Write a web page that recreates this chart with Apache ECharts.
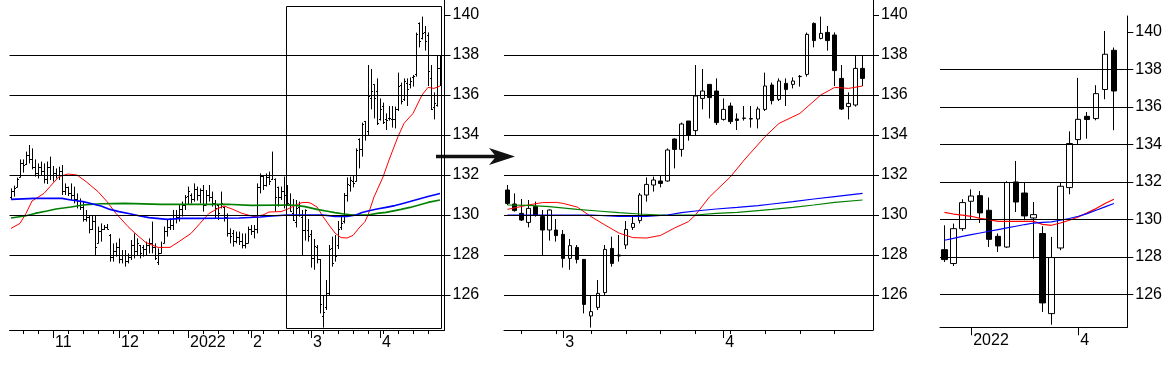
<!DOCTYPE html>
<html><head><meta charset="utf-8">
<script src="https://cdn.jsdelivr.net/npm/echarts@6/dist/echarts.min.js"></script>
<style>html,body{margin:0;padding:0;background:#fff}#c{width:1168px;height:366px}</style>
</head><body><div id="c"></div>
<script>
// ---------------- DATA ----------------
// daily bars: trading days 2021-10-12 .. 2022-04-29
const dailyOpen = [130.90,131.20,131.40,131.90,132.60,132.55,133.00,132.80,132.40,132.10,132.40,132.20,131.80,132.40,132.00,132.10,132.00,132.20,131.20,131.40,131.10,131.00,130.80,130.50,130.40,129.80,129.90,129.30,129.70,128.60,129.20,129.30,129.40,129.00,127.90,128.20,128.40,127.80,128.00,127.70,127.90,128.50,128.20,128.50,128.38,128.30,128.50,128.60,128.40,127.64,128.10,128.60,129.20,129.40,129.50,130.00,129.90,130.30,130.50,130.96,131.00,130.80,131.30,131.00,131.26,130.50,131.00,130.90,130.60,130.48,130.40,130.40,129.90,129.10,129.09,128.70,128.90,128.70,128.50,128.60,129.30,129.20,129.30,131.40,131.95,131.50,131.90,131.80,131.80,131.40,130.90,131.20,131.25,130.55,130.08,129.63,130.42,129.92,129.25,129.25,129.03,127.83,128.38,127.78,124.95,125.38,126.12,128.33,128.00,128.50,129.38,129.72,131.00,131.50,131.70,131.70,133.80,133.28,134.70,134.22,135.83,136.53,136.20,134.78,135.45,134.80,134.83,134.80,134.80,135.28,136.50,135.78,136.58,136.53,136.92,137.03,139.58,138.83,139.13,139.00,136.83,135.42,135.50,137.33];
const dailyHigh = [131.33,131.47,131.87,132.78,132.78,133.17,133.50,133.33,132.78,132.58,132.67,132.58,132.67,132.92,132.45,132.33,132.42,132.50,131.58,131.42,131.58,131.42,131.08,130.83,130.67,130.25,130.00,129.95,129.95,129.42,129.58,129.50,129.55,129.05,128.58,128.62,128.83,128.25,128.25,128.08,128.75,129.08,128.83,128.50,128.50,128.67,128.83,129.67,128.58,128.33,128.67,129.42,129.75,129.83,130.25,130.25,130.50,130.67,131.00,131.42,131.08,131.58,131.42,131.33,131.50,131.25,131.50,131.17,130.75,130.50,131.17,130.42,130.08,129.33,129.25,129.17,129.17,129.08,129.08,129.42,129.50,129.50,131.58,132.08,132.00,132.08,132.17,133.17,131.83,131.42,131.42,131.92,131.50,131.08,130.80,130.75,130.67,130.25,130.28,129.80,129.25,128.80,128.50,127.80,125.96,126.75,128.50,128.92,129.00,129.70,129.95,131.10,131.88,131.92,131.95,133.33,133.83,134.62,134.70,137.50,137.30,136.53,136.83,135.83,135.62,135.08,135.45,135.45,135.42,137.12,136.62,136.83,136.83,136.88,137.00,139.12,139.63,139.92,139.45,139.13,137.50,136.13,137.95,137.95];
const dailyLow = [130.78,130.92,131.38,131.88,132.12,132.50,132.58,132.28,131.92,131.83,132.00,131.58,131.55,131.75,131.67,131.83,131.75,131.00,131.00,130.95,130.75,130.58,130.33,130.25,129.67,129.67,129.08,129.25,128.00,128.58,128.67,129.25,129.28,127.67,127.67,127.92,127.58,127.58,127.42,127.58,127.75,127.83,128.00,127.83,127.92,128.00,128.08,128.08,127.75,127.50,128.08,128.58,128.92,129.25,129.25,129.58,129.67,129.92,130.25,130.50,130.58,130.67,130.72,130.58,130.17,130.50,130.67,130.42,129.83,129.75,130.33,129.67,128.92,128.58,128.42,128.58,128.50,128.33,128.33,128.58,129.00,128.83,129.08,131.08,131.25,131.42,131.50,131.75,130.17,130.42,130.75,130.33,130.50,130.17,129.70,129.38,129.92,128.00,128.72,128.67,127.37,127.26,127.58,125.08,124.37,125.25,126.00,127.42,127.67,128.30,129.25,129.58,130.67,131.17,131.38,131.67,132.33,132.92,133.72,134.00,135.28,134.83,134.50,134.72,134.55,134.25,134.72,134.37,134.33,135.20,135.53,135.70,135.45,136.33,136.42,136.92,138.38,138.78,138.22,136.45,135.25,134.78,135.42,136.45];
const dailyClose = [131.20,131.35,131.80,132.60,132.50,133.00,132.80,132.40,132.10,132.40,132.20,131.80,132.40,132.00,132.10,132.00,132.20,131.20,131.40,131.10,131.00,130.80,130.50,130.40,129.80,129.90,129.30,129.70,128.40,129.20,129.30,129.40,129.30,127.90,128.20,128.40,127.80,128.00,127.70,127.90,128.50,128.20,128.60,128.10,128.30,128.50,128.60,128.40,127.85,128.10,128.40,129.20,129.40,129.50,130.00,129.90,130.30,130.50,130.89,131.20,130.80,131.30,131.00,131.24,130.50,131.00,130.90,130.60,130.34,130.10,130.60,129.90,129.10,128.93,128.70,128.90,128.70,128.50,128.58,129.30,129.20,129.30,131.40,131.96,131.50,131.90,131.70,132.00,130.92,130.90,131.20,131.00,130.58,130.22,129.75,130.33,130.00,129.25,130.25,128.97,127.83,128.47,127.78,125.53,125.17,126.08,128.28,127.58,127.95,129.28,129.58,131.00,131.53,131.75,131.58,133.25,133.28,134.55,134.00,135.95,136.20,135.87,134.62,135.28,134.67,134.73,134.85,134.82,135.30,136.45,135.72,136.70,136.28,136.70,136.93,139.03,138.72,139.08,138.72,137.22,135.30,135.58,137.33,136.83];
// moving averages: [day index, value]
const maRed = [[0,129.33],[3,129.58],[5,130.08],[7,130.7],[11,131.08],[13,131.42],[16,131.92],[19,132.05],[22,132.0],[25,131.67],[29,131.17],[32,130.67],[35,130.08],[39,129.42],[42,129.0],[45,128.62],[49,128.38],[53,128.38],[56,128.67],[60,129.08],[63,129.58],[66,130.08],[69,130.33],[71,130.45],[74,130.28],[77,130.08],[81,129.92],[84,130.0],[86,130.15],[90,130.17],[92,130.28],[95,130.5],[97,130.62],[99,130.63],[100,130.58],[102,130.4],[104,129.92],[106,129.5],[108,129.1],[110,128.87],[112,128.85],[114,128.98],[116,129.35],[118,129.67],[119,130.0],[121,130.9],[124,131.9],[126,132.75],[129,133.92],[131,134.58],[134,135.08],[137,136.0],[139,136.38],[141,136.33],[143,136.45]];
const maBlue = [[0,130.78],[8,130.83],[17,130.83],[20,130.75],[24,130.67],[30,130.45],[33,130.28],[36,130.17],[40,130.05],[43,129.95],[46,129.87],[52,129.78],[57,129.83],[63,129.83],[76,129.85],[83,129.9],[87,129.95],[92,130.0],[104,130.0],[108,129.93],[112,129.93],[115,130.0],[117,130.12],[119,130.2],[122,130.3],[125,130.38],[128,130.47],[130,130.55],[133,130.67],[136,130.8],[139,130.92],[143,131.08]];
const maGreen = [[0,129.85],[5,129.96],[8,130.08],[12,130.2],[15,130.3],[20,130.4],[24,130.5],[30,130.56],[38,130.58],[50,130.53],[62,130.53],[72,130.54],[80,130.48],[92,130.5],[95,130.48],[98,130.42],[102,130.28],[105,130.2],[108,130.12],[111,130.05],[114,130.0],[119,130.0],[122,130.08],[125,130.13],[128,130.22],[130,130.28],[133,130.38],[136,130.5],[139,130.63],[143,130.75]];
// weekly candles: weeks starting 2021-12-13 .. 2022-04-25
const weeklyOpen  = [128.38,127.64,129.50,130.96,131.26,130.48,129.09,128.52,131.99,131.40,130.07,129.24,124.97,128.47,131.69,134.25,135.49,135.37,136.92,139.01];
const weeklyClose = [127.85,129.50,130.89,131.24,130.34,128.93,128.58,131.96,130.92,130.18,130.25,125.54,127.96,131.76,134.04,135.33,135.32,136.70,138.80,136.84];
const weeklyLow   = [127.72,127.51,129.38,130.00,129.80,128.52,128.26,128.47,130.39,129.95,127.90,125.06,124.38,128.35,131.33,134.00,134.30,135.28,136.40,134.75];
const weeklyHigh  = [129.68,129.77,131.07,131.60,131.51,131.16,129.24,132.03,133.11,131.99,130.92,129.63,129.06,131.94,134.69,137.54,135.72,137.15,140.04,139.16];
const weeklyRed  = [130.37,130.28,130.22,130.16,130.05,129.98,129.89,129.89,129.89,129.89,129.89,129.73,129.68,129.80,129.95,130.12,130.34,130.57,130.84,131.07];
const weeklyBlue = [128.88,128.98,129.09,129.18,129.27,129.36,129.45,129.54,129.63,129.72,129.80,129.83,129.86,129.95,130.04,130.16,130.30,130.48,130.66,130.84];
// axis labels
const yTicks = [126,128,130,132,134,136,138,140];
const gridLevels = [126,128,130,132,134,136,138];
const monthKeys   = ['2021-11','2021-12','2022-01','2022-02','2022-03','2022-04'];
const monthLabels = ['11','12','2022','2','3','4'];
const weeklyTickDates  = ['2022-01-03','2022-03-28'];
const weeklyTickLabels = ['2022','4'];
const zoomStart = '2022-02-17';
const zoomBox = {low:124.35, high:140.45};

// ---------------- CATEGORIES ----------------
function tradingDays(start, end) {
  const out = []; const d = new Date(start + 'T00:00:00Z'); const e = new Date(end + 'T00:00:00Z');
  while (d <= e) { const w = d.getUTCDay(); if (w > 0 && w < 6) out.push(d.toISOString().slice(0, 10)); d.setUTCDate(d.getUTCDate() + 1); }
  return out;
}
function weekStarts(start, n) {
  const out = []; const d = new Date(start + 'T00:00:00Z');
  for (let k = 0; k < n; k++) { out.push(d.toISOString().slice(0, 10)); d.setUTCDate(d.getUTCDate() + 7); }
  return out;
}
const dailyDates = tradingDays('2021-10-12', '2022-04-29');
const weeklyDates = weekStarts('2021-12-13', weeklyOpen.length);
const zoomIdx = dailyDates.indexOf(zoomStart);

const cat1 = dailyDates.concat(['']);
const cat2 = dailyDates.slice(zoomIdx).concat(['']);
const cat3 = weeklyDates.concat(['']);

const isMonday = v => v !== '' && new Date(v + 'T00:00:00Z').getUTCDay() === 1;
function monthStartFn(cats) {
  return (idx, v) => v !== '' && idx > 0 && cats[idx - 1].slice(0, 7) !== v.slice(0, 7) && monthKeys.indexOf(v.slice(0, 7)) >= 0;
}
const monthLabel = v => { const k = monthKeys.indexOf(v.slice(0, 7)); return k >= 0 ? monthLabels[k] : ''; };

// ---------------- OPTION ----------------
const FONT = 'Liberation Sans, Arial, sans-serif';
const grids = [
  {left: 9.5, top: 0, width: 3 * cat1.length, height: 330},
  {left: 504, top: 0, width: 369, height: 330},
  {left: 940, top: 16, width: 187.3, height: 311.3}
].map(g => Object.assign(g, {containLabel: false, outerBoundsMode: 'none'}));

function minorAxis(gi, cats, intervalFn) {
  return {gridIndex: gi, type: 'category', data: cats, position: 'bottom', boundaryGap: true,
    axisLine: {show: true, onZero: false, lineStyle: {color: '#000', width: 1}},
    axisTick: {show: true, alignWithLabel: true, length: 4, interval: intervalFn, lineStyle: {color: '#000'}},
    axisLabel: {show: false, interval: intervalFn}, splitLine: {show: false}};
}
function majorAxis(gi, cats, intervalFn, fmt) {
  return {gridIndex: gi, type: 'category', data: cats, position: 'bottom', boundaryGap: true,
    axisLine: {show: false, onZero: false},
    axisTick: {show: true, alignWithLabel: true, length: 8, interval: intervalFn, lineStyle: {color: '#000'}},
    axisLabel: {show: true, interval: intervalFn, formatter: fmt, align: 'left', margin: 5, padding: [0, 0, 0, 2],
      color: '#000', fontFamily: FONT, fontSize: 16},
    splitLine: {show: false}};
}
function yAxis(gi, min, max) {
  return {gridIndex: gi, type: 'value', position: 'right', min: min, max: max, scale: true,
    axisLine: {show: true, onZero: false, lineStyle: {color: '#000', width: 1}},
    axisTick: {show: true, length: 6, customValues: yTicks, lineStyle: {color: '#000'}},
    axisLabel: {show: true, customValues: yTicks, margin: 8, color: '#000', fontFamily: FONT, fontSize: 16},
    splitLine: {show: false}};
}
const m1 = monthStartFn(cat1), m2 = monthStartFn(cat2);
const weeklyTickFn = (idx, v) => weeklyTickDates.indexOf(v) >= 0;
const weeklyFmt = v => { const k = weeklyTickDates.indexOf(v); return k >= 0 ? weeklyTickLabels[k] : ''; };

const xAxes = [
  minorAxis(0, cat1, (i, v) => isMonday(v)), majorAxis(0, cat1, m1, monthLabel),
  minorAxis(1, cat2, (i, v) => isMonday(v)), majorAxis(1, cat2, m2, monthLabel),
  minorAxis(2, cat3, () => false), majorAxis(2, cat3, weeklyTickFn, weeklyFmt)
];
const yAxes = [yAxis(0, 124.25, 140.75), yAxis(1, 124.25, 140.75), yAxis(2, 124.24, 140.84)];

function gridLineSeries(xi, yi) {
  return {type: 'line', xAxisIndex: xi, yAxisIndex: yi, data: [], z: 0, silent: true,
    markLine: {silent: true, symbol: ['none', 'none'], label: {show: false}, animation: false,
      lineStyle: {color: '#000', width: 1, type: 'solid'},
      emphasis: {disabled: true},
      data: gridLevels.map(v => ({yAxis: v}))}};
}
function maSeries(xi, yi, data, color, width) {
  return {type: 'line', xAxisIndex: xi, yAxisIndex: yi, data: data, showSymbol: false, symbol: 'none',
    connectNulls: true, z: 4, silent: true, lineStyle: {color: color, width: width}};
}
const shift = arr => arr.filter(p => p[0] >= zoomIdx).map(p => [p[0] - zoomIdx, p[1]]);

const ohlc = dailyDates.map((d, i) => [i, dailyOpen[i], dailyHigh[i], dailyLow[i], dailyClose[i]]);
function renderOHLC(params, api) {
  const i = api.value(0);
  const xc = Math.round(api.coord([i, api.value(2)])[0]) + 0.5;
  const yh = api.coord([i, api.value(2)])[1];
  const yl = api.coord([i, api.value(3)])[1];
  const yo = Math.round(api.coord([i, api.value(1)])[1]) + 0.5;
  const yc = Math.round(api.coord([i, api.value(4)])[1]) + 0.5;
  const st = {stroke: '#000', lineWidth: 1};
  return {type: 'group', children: [
    {type: 'line', shape: {x1: xc, y1: yh, x2: xc, y2: yl}, style: st},
    {type: 'line', shape: {x1: xc - 1.5, y1: yo, x2: xc, y2: yo}, style: st},
    {type: 'line', shape: {x1: xc, y1: yc, x2: xc + 1.5, y2: yc}, style: st}
  ]};
}
function renderBox(params, api) {
  const p1 = api.coord([api.value(0), api.value(3)]);
  const p2 = api.coord([api.value(1), api.value(2)]);
  const w = api.size([1, 0])[0];
  const x1 = Math.round(p1[0] - w / 2) + 0.5, x2 = Math.round(p2[0] + w / 2) - 0.5;
  const y1 = Math.round(p1[1]) + 0.5, y2 = Math.round(p2[1]) + 0.5;
  return {type: 'rect', shape: {x: x1, y: y1, width: x2 - x1, height: y2 - y1},
    style: {fill: 'none', stroke: '#000', lineWidth: 1}};
}
const candleStyle = {color: '#fff', color0: '#000', borderColor: '#000', borderColor0: '#000', borderColorDoji: '#000', borderWidth: 1};
const daily2 = dailyDates.slice(zoomIdx).map((d, k) => { const i = k + zoomIdx; return [dailyOpen[i], dailyClose[i], dailyLow[i], dailyHigh[i]]; });
const weekly = weeklyOpen.map((o, k) => [o, weeklyClose[k], weeklyLow[k], weeklyHigh[k]]);

const series = [
  gridLineSeries(0, 0), gridLineSeries(2, 1), gridLineSeries(4, 2),
  {type: 'custom', xAxisIndex: 0, yAxisIndex: 0, data: ohlc, renderItem: renderOHLC, z: 2, silent: true,
    encode: {x: 0, y: [1, 2, 3, 4]}},
  {type: 'custom', xAxisIndex: 0, yAxisIndex: 0, renderItem: renderBox, z: 5, silent: true,
    data: [[zoomIdx, dailyDates.length - 1, zoomBox.low, zoomBox.high]], encode: {x: [0, 1], y: [2, 3]}},
  maSeries(0, 0, maRed, '#ff0000', 1), maSeries(0, 0, maGreen, '#008000', 1.6), maSeries(0, 0, maBlue, '#0000ff', 1.6),
  {type: 'candlestick', xAxisIndex: 2, yAxisIndex: 1, data: daily2, barWidth: 4, z: 2, silent: true, itemStyle: candleStyle},
  maSeries(2, 1, shift(maRed), '#ff0000', 1), maSeries(2, 1, shift(maGreen), '#008000', 1.2), maSeries(2, 1, shift(maBlue), '#0000ff', 1.2),
  {type: 'candlestick', xAxisIndex: 4, yAxisIndex: 2, data: weekly, barWidth: 6, z: 2, silent: true, itemStyle: candleStyle},
  maSeries(4, 2, weeklyRed, '#ff0000', 1.2), maSeries(4, 2, weeklyBlue, '#0000ff', 1.2)
];

const chart = echarts.init(document.getElementById('c'), null, {renderer: 'canvas'});
chart.setOption({
  animation: false, backgroundColor: '#fff',
  grid: grids, xAxis: xAxes, yAxis: yAxes, series: series,
  graphic: [
    {type: 'line', shape: {x1: 436, y1: 156.5, x2: 500, y2: 156.5}, style: {stroke: '#111', lineWidth: 3.5}},
    {type: 'polygon', shape: {points: [[489, 148], [515, 156.5], [489, 165], [496, 156.5]]}, style: {fill: '#111'}}
  ]
});
</script></body></html>
